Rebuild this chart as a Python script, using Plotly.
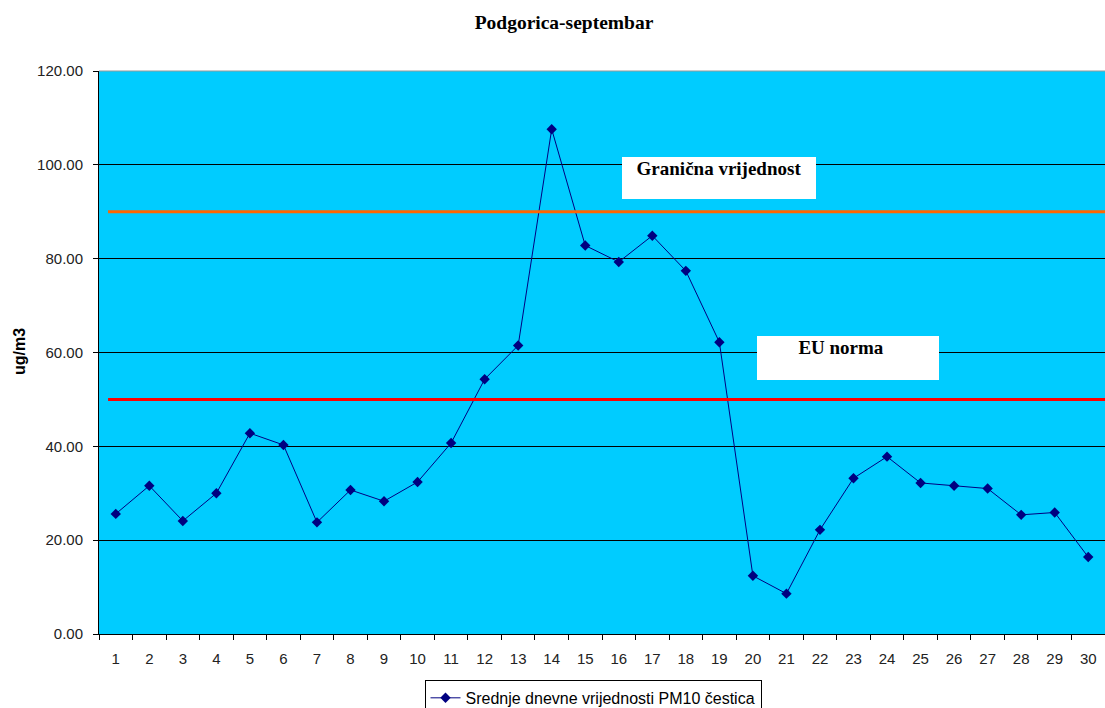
import plotly.graph_objects as go

# daily averages of PM10, Podgorica, September
days = [str(d) for d in range(1, 31)]
pm10 = [25.6, 31.6, 24.1, 30.0, 42.8, 40.3, 23.8, 30.7, 28.3, 32.4,
        40.7, 54.3, 61.5, 107.6, 82.8, 79.3, 84.9, 77.4, 62.2, 12.4,
        8.6, 22.2, 33.2, 37.8, 32.2, 31.6, 31.0, 25.4, 25.9, 16.4]

limit_value = 90   # Granična vrijednost
eu_norm = 50       # EU norma
y_ticks = [0, 20, 40, 60, 80, 100, 120]

serif = "Times New Roman, Liberation Serif, serif"
sans = "Arial, Liberation Sans, sans-serif"

W, H = 1105, 708
PL, PT, PB = 99, 70.5, 634.5   # plot left / top / bottom in px
PW, PH = W - PL, PB - PT

fig = go.Figure()

fig.add_trace(go.Scatter(
    x=days, y=pm10, mode="lines+markers",
    name="Srednje dnevne vrijednosti PM10 čestica",
    line=dict(color="#000080", width=1),
    marker=dict(symbol="diamond", size=8, color="#000080"),
))

# reference lines
fig.add_shape(type="line", xref="paper", yref="y", x0=0.009, x1=1,
              y0=limit_value, y1=limit_value, line=dict(color="#FF6600", width=3))
fig.add_shape(type="line", xref="paper", yref="y", x0=0.009, x1=1,
              y0=eu_norm, y1=eu_norm, line=dict(color="#FF0000", width=3))

# label boxes
fig.add_annotation(text="<b>Granična vrijednost</b>", xref="paper", yref="paper",
                   x=(719 - PL) / PW, y=(PB - 178) / PH,
                   xanchor="center", yanchor="middle",
                   width=192, height=40, valign="top", align="center",
                   showarrow=False, bgcolor="white", borderwidth=0, borderpad=1,
                   font=dict(family=serif, size=19, color="black"))
fig.add_annotation(text="<b>EU norma</b>&nbsp;&nbsp;&nbsp;", xref="paper", yref="paper",
                   x=(848 - PL) / PW, y=(PB - 358) / PH,
                   xanchor="center", yanchor="middle",
                   width=180, height=42, valign="top", align="center",
                   showarrow=False, bgcolor="white", borderwidth=0, borderpad=1,
                   font=dict(family=serif, size=19, color="black"))

# y axis title
fig.add_annotation(text="<b>ug/m3</b>", xref="paper", yref="paper",
                   x=(19 - PL) / PW, y=(PB - 352) / PH, xanchor="center", yanchor="middle",
                   textangle=-90, showarrow=False,
                   font=dict(family=sans, size=16, color="black"))

fig.update_layout(
    width=W, height=H,
    margin=dict(l=PL, r=0, t=PT, b=H - PB, autoexpand=False),
    paper_bgcolor="white",
    plot_bgcolor="#00CCFF",
    title=dict(text="<b>Podgorica-septembar</b>", x=564 / W, xanchor="center",
               y=1 - 22 / H, yanchor="middle",
               font=dict(family=serif, size=19.5, color="black")),
    showlegend=True,
    legend=dict(orientation="h", x=(593 - PL) / PW, xanchor="center",
                y=-46 / PH, yanchor="top",
                bordercolor="black", borderwidth=1, bgcolor="white",
                font=dict(family=sans, size=16, color="black")),
    xaxis=dict(type="category", range=[-0.5, 29.5], showgrid=False, automargin=False,
               showline=True, linecolor="black", linewidth=1,
               ticks="outside", tickson="boundaries", ticklen=5, tickcolor="black",
               ticklabelstandoff=11,
               tickfont=dict(family=sans, size=15, color="#222"), zeroline=False),
    yaxis=dict(range=[0, 120], tickvals=y_ticks, tickformat=".2f", automargin=False,
               showgrid=True, gridcolor="black", gridwidth=1,
               showline=True, linecolor="black", linewidth=1,
               ticks="outside", ticklen=5, tickcolor="black",
               ticklabelstandoff=7,
               tickfont=dict(family=sans, size=15, color="#222"), zeroline=False),
)

# gray top border
fig.add_shape(type="line", xref="paper", yref="paper", x0=0, x1=1, y0=1, y1=1,
              line=dict(color="#999999", width=1))

# no page margin / scrollbars, so the figure fills the window exactly
fig.write_html("out.html",
               config={"displayModeBar": False},
               post_script="document.body.style.margin='0';"
                           "document.body.style.overflow='hidden';")
